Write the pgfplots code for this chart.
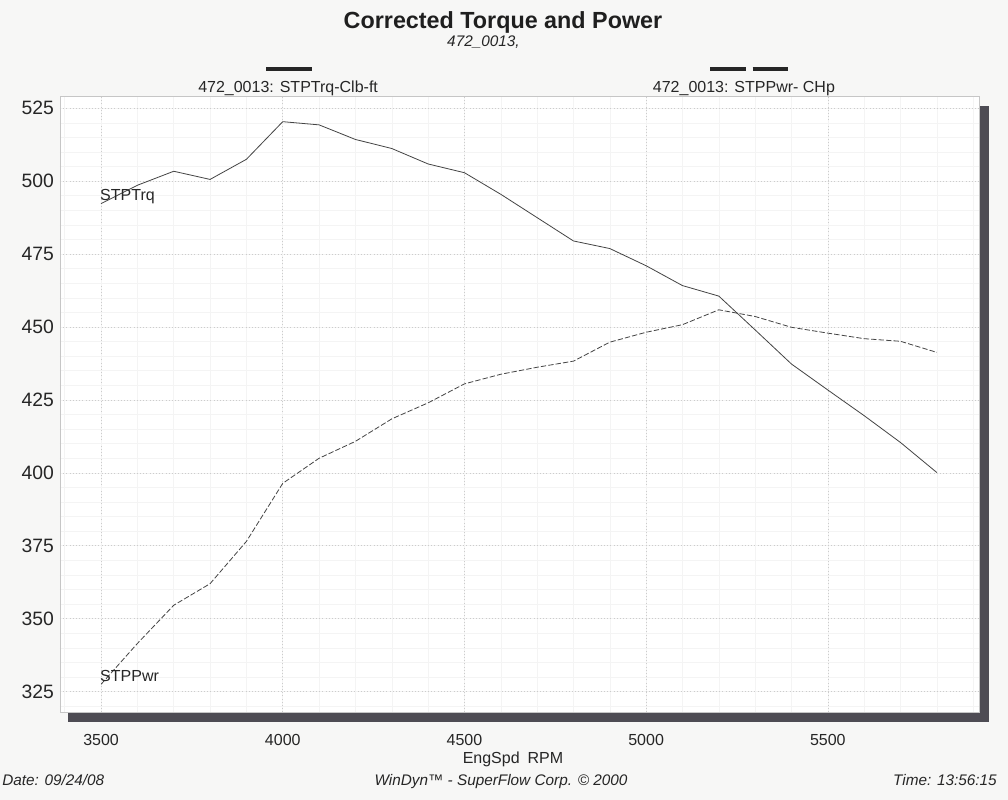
\documentclass[border=0pt]{standalone}
\usepackage{pgfplots}
\pgfplotsset{compat=1.18}
\usepackage{fontspec}
\setmainfont{Liberation Sans}
\definecolor{bgc}{HTML}{F7F7F6}
\definecolor{shadowc}{HTML}{4E4C54}
\definecolor{curve}{HTML}{444444}
\pgfplotstableread{
rpm trq
3500 492.3
3600 498.6
3700 503.4
3800 500.6
3900 507.5
4000 520.4
4100 519.3
4200 514.3
4300 511.2
4400 505.9
4500 502.9
4600 495.5
4700 487.5
4800 479.5
4900 476.9
5000 471.0
5100 464.2
5200 460.6
5300 449.0
5400 437.3
5500 428.4
5600 419.6
5700 410.4
5800 400.1
}\trqtable
\pgfplotstableread{
rpm pwr
3500 327.5
3600 341.5
3700 354.6
3800 362.0
3900 376.5
4000 396.4
4100 405.0
4200 410.8
4300 418.5
4400 424.0
4500 430.5
4600 433.8
4700 436.2
4800 438.3
4900 444.8
5000 448.2
5100 450.8
5200 455.9
5300 453.6
5400 449.9
5500 447.9
5600 446.0
5700 445.1
5800 441.3
}\pwrtable
\begin{document}
\begin{tikzpicture}
\fill[bgc] (0pt,0pt) rectangle (756pt,-600pt);
\path[use as bounding box] (0pt,0pt) rectangle (756pt,-600pt);
\fill[shadowc] (51pt,-79.5pt) rectangle (741.75pt,-541.5pt);
\begin{axis}[
  at={(45pt,-534pt)}, anchor=south west,
  scale only axis, width=689.25pt, height=462pt,
  xmin=3387, xmax=5916, ymin=318, ymax=529.2,
  xtick={3500,4000,4500,5000,5500},
  minor xtick={3400,3500,...,5900},
  ytick={325,350,...,525},
  minor ytick={320,325,...,525},
  grid=both,
  major grid style={draw=gray!40, dotted, line width=0.5pt},
  minor grid style={draw=gray!9, line width=0.4pt},
  major tick length=0pt, minor tick length=0pt,
  axis line style={draw=gray!45, line width=0.5pt},
  axis background/.style={fill=white},
  xticklabel style={font=\fontsize{12}{14}\selectfont, text=black!85, anchor=base, yshift=-24.75pt},
  yticklabel style={font=\fontsize{14.5}{16}\selectfont, text=black!85, xshift=-1pt},
  /pgf/number format/assume math mode=true,
  /pgf/number format/1000 sep={},
]
\addplot[curve, line width=0.6pt] table[x=rpm, y=trq] {\trqtable};
\addplot[curve, line width=0.6pt, dash pattern=on 4pt off 1.6pt] table[x=rpm, y=pwr] {\pwrtable};
\node[anchor=base west, inner sep=0pt, font=\fontsize{12}{14}\selectfont, text=black!85] at (axis cs:3497,493.3) {STPTrq};
\node[anchor=base west, inner sep=0pt, font=\fontsize{12}{14}\selectfont, text=black!85] at (axis cs:3497,328.6) {STPPwr};
\end{axis}
\node[anchor=base, inner sep=0pt, font=\fontsize{17.5}{19}\selectfont\bfseries, text=black!88] at (377.25pt,-21pt) {Corrected Torque and Power};
\node[anchor=base, inner sep=0pt, font=\fontsize{11.5}{13}\selectfont\itshape, text=black!85] at (362.6pt,-35pt) {472\_0013,};
\draw[black!85, line width=3pt] (199.5pt,-51.4pt) -- (234pt,-51.4pt);
\draw[black!85, line width=3pt] (532.5pt,-52pt) -- (559.5pt,-52pt);
\draw[black!85, line width=3pt] (564.5pt,-52pt) -- (590.8pt,-52pt);
\node[anchor=base west, inner sep=0pt, font=\fontsize{12}{14}\selectfont, text=black!85] at (148.5pt,-69.4pt) {472\_0013: STPTrq-Clb-ft};
\node[anchor=base west, inner sep=0pt, font=\fontsize{12}{14}\selectfont, text=black!85] at (489.5pt,-69.4pt) {472\_0013: STPPwr- CHp};
\node[anchor=base, inner sep=0pt, font=\fontsize{12}{14}\selectfont, text=black!85] at (384.75pt,-572.25pt) {EngSpd\enspace RPM};
\node[anchor=base west, inner sep=0pt, font=\fontsize{11.5}{13}\selectfont\itshape, text=black!85] at (1.5pt,-588.75pt) {Date: 09/24/08};
\node[anchor=base, inner sep=0pt, font=\fontsize{11.5}{13}\selectfont\itshape, text=black!85] at (375.75pt,-588.75pt) {WinDyn™ - SuperFlow Corp. © 2000};
\node[anchor=base east, inner sep=0pt, font=\fontsize{11.5}{13}\selectfont\itshape, text=black!85] at (747.75pt,-588.75pt) {Time: 13:56:15};
\end{tikzpicture}
\end{document}
